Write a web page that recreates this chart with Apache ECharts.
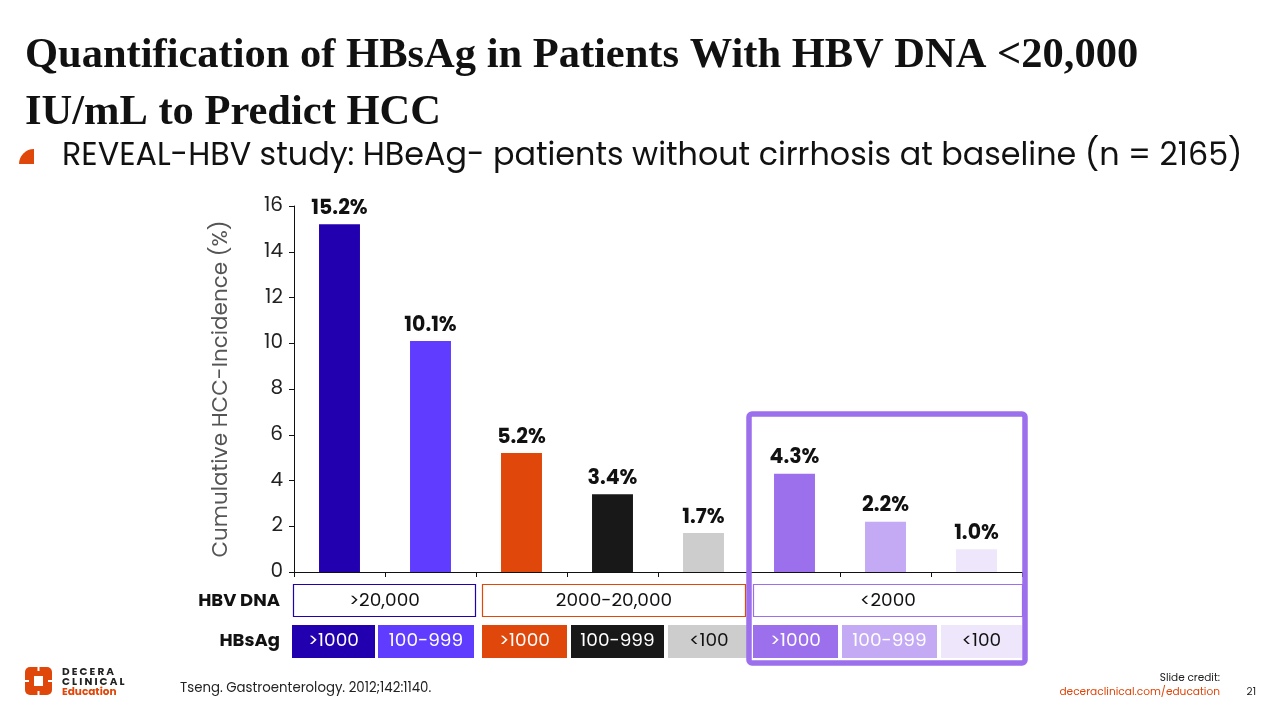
<!DOCTYPE html>
<html><head><meta charset="utf-8">
<script src="https://cdn.jsdelivr.net/npm/echarts@6/dist/echarts.min.js"></script>
<style>html,body{margin:0;padding:0;background:#fff;}#c{width:1280px;height:720px;}</style>
</head><body><div id="c"></div>
<script>
const categories = ['A1','A2','B1','B2','B3','C1','C2','C3'];
const values = [15.2, 10.1, 5.2, 3.4, 1.7, 4.3, 2.2, 1.0];
const valueLabels = ['15.2%','10.1%','5.2%','3.4%','1.7%','4.3%','2.2%','1.0%'];
const barColors = ['#2200B0','#5F3CFF','#E0470A','#181818','#CDCDCD','#9C6FEC','#C4A9F5','#EEE7FB'];
const hbsagLabels = ['>1000','100-999','>1000','100-999','<100','>1000','100-999','<100'];
const hbsagTextColors = ['#fff','#fff','#fff','#fff','#111','#fff','#fff','#111'];
const dnaLabels = ['>20,000','2000-20,000','<2000'];
const dnaBorders = ['#2200B0','#E0470A','#9C6FEC'];

// table layout (pixel edges of cells)
const cellEdges = [[292,375],[378,474],[482,567],[571,664],[668,750],[753,838],[842,937],[941,1022]];
const dnaEdges = [[293,476],[482,746],[753,1023]];

const FONT = 'Poppins, "Noto Sans", sans-serif';
const chart = echarts.init(document.getElementById('c'));
const option = {
  animation:false,
  backgroundColor:'#fff',
  grid:{left:294, right:258, top:206, bottom:148},
  xAxis:{type:'category', data:categories, boundaryGap:true,
    axisLine:{lineStyle:{color:'#111', width:1}},
    axisTick:{show:true, length:5, lineStyle:{color:'#111'}, alignWithLabel:false},
    axisLabel:{show:false}},
  yAxis:{type:'value', min:0, max:16, interval:2,
    name:'Cumulative HCC-Incidence (%)', nameLocation:'middle', nameGap:61,
    nameTextStyle:{fontFamily:FONT, fontSize:21.5, color:'#555'},
    axisLine:{show:true, lineStyle:{color:'#111'}},
    axisTick:{show:true, length:5, lineStyle:{color:'#111'}},
    axisLabel:{fontFamily:FONT, fontSize:20, color:'#222', margin:11},
    splitLine:{show:false}},
  series:[{type:'bar', barWidth:'45%',
    data: values.map((v,i)=>({value:v, itemStyle:{color:barColors[i]}})),
    label:{show:true, position:'top', distance:5, fontFamily:FONT, fontWeight:'bold', fontSize:20.5, color:'#111',
      formatter:p=>valueLabels[p.dataIndex]}}],
  graphic:[]
};
chart.setOption(option);

function T(x,y,text,font,fill,align,vAlign,z){
  return {type:'text', x:x, y:y, z:z||10, style:{text:text, font:font, fill:fill, align:align||'left', verticalAlign:vAlign||'top'}};
}
function build(){
  const g = [];
  const TF = 'bold 42.5px "Liberation Serif", "Times New Roman", serif';
  g.push(T(25,56,'Quantification of HBsAg in Patients With HBV DNA <20,000',TF,'#111','left','middle'));
  g.push(T(25,113,'IU/mL to Predict HCC',TF,'#111','left','middle'));
  g.push({type:'sector', shape:{cx:34, cy:164, r:15, startAngle:Math.PI, endAngle:Math.PI*1.5, clockwise:true}, style:{fill:'#E0470A'}});
  g.push(T(62,157,'REVEAL-HBV study: HBeAg- patients without cirrhosis at baseline (n = 2165)','31.8px '+FONT,'#111','left','middle'));
  g.push(T(280,601,'HBV DNA','bold 18px '+FONT,'#111','right','middle'));
  g.push(T(280,641,'HBsAg','bold 18px '+FONT,'#111','right','middle'));
  dnaEdges.forEach((e,k)=>{
    g.push({type:'rect', shape:{x:e[0]+0.5, y:584.5, width:e[1]-e[0]-1, height:32}, style:{fill:'#fff', stroke:dnaBorders[k], lineWidth:1.2}});
    g.push(T((e[0]+e[1])/2,601,dnaLabels[k],'18.5px '+FONT,'#111','center','middle'));
  });
  hbsagLabels.forEach((t,i)=>{
    const e = cellEdges[i];
    g.push({type:'rect', shape:{x:e[0], y:625, width:e[1]-e[0], height:33}, style:{fill:barColors[i]}});
    g.push(T((e[0]+e[1])/2,641.5,t,'18.5px '+FONT,hbsagTextColors[i],'center','middle'));
  });
  g.push({type:'rect', z:100, shape:{x:749, y:414, width:276, height:249, r:3}, style:{fill:'none', stroke:'#9C6FEC', lineWidth:5.5}});
  // logo
  g.push({type:'rect', shape:{x:25, y:667, width:27, height:28, r:5}, style:{fill:'#E0470A'}});
  g.push({type:'rect', z:11, shape:{x:34, y:676, width:9, height:10}, style:{fill:'#fff'}});
  g.push({type:'rect', z:11, shape:{x:37.5, y:667, width:2, height:4}, style:{fill:'#fff'}});
  g.push({type:'rect', z:11, shape:{x:37.5, y:691, width:2, height:4}, style:{fill:'#fff'}});
  g.push({type:'rect', z:11, shape:{x:25, y:680, width:4, height:2}, style:{fill:'#fff'}});
  g.push({type:'rect', z:11, shape:{x:48, y:680, width:4, height:2}, style:{fill:'#fff'}});
  const sp = s => s.split('').join('\u2009');
  g.push(T(62,672,sp('DECERA'),'bold 10.5px '+FONT,'#222','left','middle'));
  g.push(T(62,682,sp('CLINICAL'),'bold 10.5px '+FONT,'#222','left','middle'));
  g.push(T(62,692,'Education','bold 10.5px '+FONT,'#E0470A','left','middle'));
  g.push(T(180,689,'Tseng. Gastroenterology. 2012;142:1140.','13.3px '+FONT,'#222','left','middle'));
  g.push(T(1220,678,'Slide credit:','10.5px '+FONT,'#222','right','middle'));
  g.push(T(1220,692,'deceraclinical.com/education','10.6px '+FONT,'#E0470A','right','middle'));
  g.push(T(1256,692,'21','10.5px '+FONT,'#222','right','middle'));
  chart.setOption({graphic:g});
}
build();
</script></body></html>
